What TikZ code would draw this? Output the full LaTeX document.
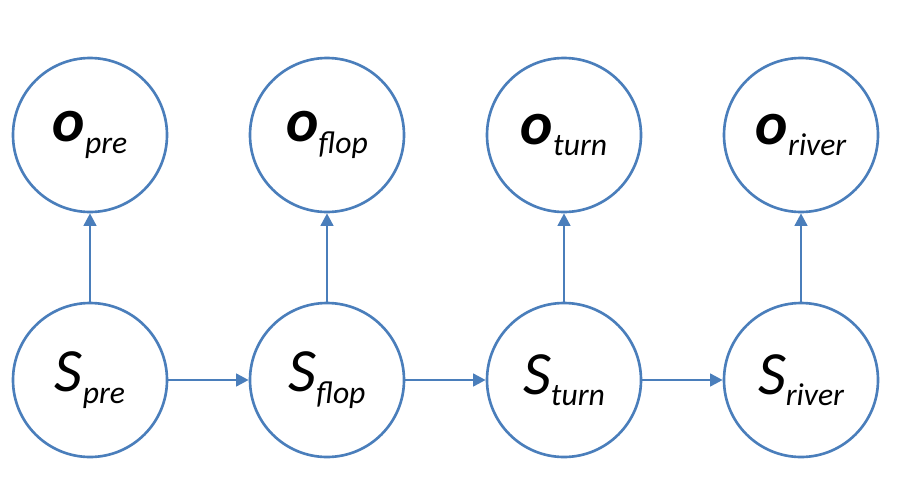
\documentclass[tikz,border=0pt]{standalone}
\usepackage{fontspec}
\setmainfont{Carlito}
\usetikzlibrary{arrows.meta,positioning}

\definecolor{nodeblue}{RGB}{74,126,187}

% main letter with lowered subscript
\newcommand{\hmmlbl}[2]{{\fontsize{35}{35}\selectfont\itshape #1}\raisebox{-6.5pt}{\fontsize{18}{18}\selectfont\itshape #2}}

\begin{document}
\begin{tikzpicture}[
    node distance=4.74cm,
    state/.style={circle, draw=nodeblue, line width=1.5pt, fill=white, minimum size=3.08cm, inner sep=0pt},
    arrow/.style={-{Triangle[length=0.25cm,width=0.25cm]}, draw=nodeblue, fill=nodeblue, line width=1.5pt}
]
\useasboundingbox (-1.8,-2.0) rectangle (16.24,7.6);

% hidden states
\node[state] (spre) at (0,0) {\hmmlbl{S}{pre}};
\node[state, right of=spre] (sflop) {\hmmlbl{S}{flop}};
\node[state, right of=sflop] (sturn) {\hmmlbl{S}{turn}};
\node[state, right of=sturn] (sriver) {\hmmlbl{S}{river}};

% observations
\node[state, above of=spre, node distance=4.9cm] (opre) {\hmmlbl{\bfseries o}{pre}};
\node[state, above of=sflop, node distance=4.9cm] (oflop) {\hmmlbl{\bfseries o}{flop}};
\node[state, above of=sturn, node distance=4.9cm] (oturn) {\hmmlbl{\bfseries o}{turn}};
\node[state, above of=sriver, node distance=4.9cm] (oriver) {\hmmlbl{\bfseries o}{river}};

% transitions
\draw[arrow] (spre) -- (sflop);
\draw[arrow] (sflop) -- (sturn);
\draw[arrow] (sturn) -- (sriver);

% emissions
\draw[arrow] (spre) -- (opre);
\draw[arrow] (sflop) -- (oflop);
\draw[arrow] (sturn) -- (oturn);
\draw[arrow] (sriver) -- (oriver);

\end{tikzpicture}
\end{document}
